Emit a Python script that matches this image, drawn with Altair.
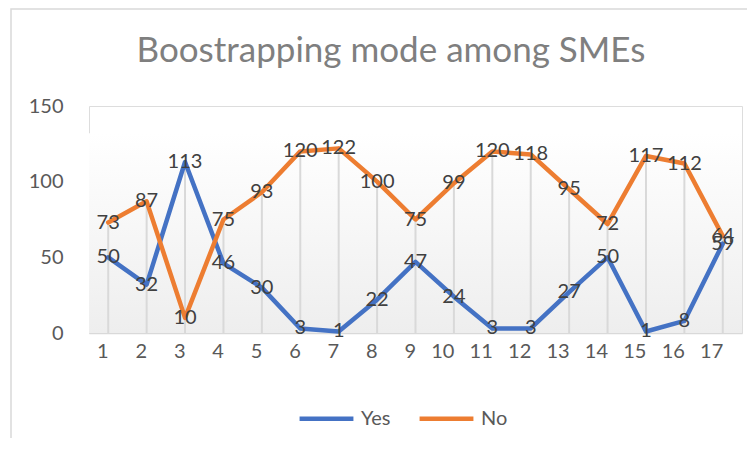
import altair as alt
import pandas as pd

categories = [str(i) for i in range(1, 18)]
yes_values = [50, 32, 113, 46, 30, 3, 1, 22, 47, 24, 3, 3, 27, 50, 1, 8, 59]
no_values = [73, 87, 10, 75, 93, 120, 122, 100, 75, 99, 120, 118, 95, 72, 117, 112, 64]
series_names = ["Yes", "No"]
series_colors = ["#4472C4", "#ED7D31"]
title_text = "Boostrapping mode among SMEs"

rows = []
for c, v in zip(categories, yes_values):
    rows.append({"cat": c, "series": "Yes", "value": v})
for c, v in zip(categories, no_values):
    rows.append({"cat": c, "series": "No", "value": v})
df = pd.DataFrame(rows)
df_max = pd.DataFrame({"cat": categories,
                       "top": [max(a, b) for a, b in zip(yes_values, no_values)]})

FONT = "Lato"
W, H = 653, 227

x_enc = alt.X("cat:O", sort=categories, scale=alt.Scale(type="point", padding=0.5),
              axis=alt.Axis(title=None, labelAngle=0, ticks=False, domain=True,
                            domainColor="#d9d9d9", domainWidth=1.5,
                            labelFontSize=20, labelColor="#595959", labelFont=FONT,
                            labelPadding=18, grid=False))
y_scale = alt.Scale(domain=[0, 150])

bg = alt.Chart(pd.DataFrame({"a": [0]})).mark_rect(
    color=alt.Gradient(gradient="linear",
                       stops=[alt.GradientStop(color="#ffffff", offset=0),
                              alt.GradientStop(color="#eeeeee", offset=1)],
                       x1=0, x2=0, y1=0, y2=1)
).encode(x=alt.value(0), x2=alt.value("width"),
         y=alt.datum(132, scale=y_scale), y2=alt.datum(0))

border = alt.Chart(pd.DataFrame({"a": [0]})).mark_rect(
    fill=None, stroke="#d9d9d9", strokeWidth=1.5
).encode(x=alt.value(-78), x2=alt.value(800), y=alt.value(-97), y2=alt.value(500))

title = alt.Chart(pd.DataFrame({"t": [title_text]})).mark_text(
    fontSize=35, color="#7f7f7f", font=FONT, align="center", baseline="alphabetic"
).encode(x=alt.value(302), y=alt.value(-44), text="t:N")

drops = alt.Chart(df_max).mark_rule(color="#d9d9d9", strokeWidth=2).encode(
    x=alt.X("cat:O", sort=categories),
    y=alt.Y("top:Q", scale=y_scale),
    y2=alt.datum(0)
)

lines = alt.Chart(df).mark_line(strokeWidth=4.5, strokeCap="round", strokeJoin="round").encode(
    x=x_enc,
    y=alt.Y("value:Q", scale=y_scale,
            axis=alt.Axis(title=None, values=[0, 50, 100, 150], grid=False, ticks=False,
                          domain=False, labelFontSize=20, labelColor="#595959",
                          labelFont=FONT, labelPadding=26)),
    color=alt.Color("series:N", sort=series_names,
                    scale=alt.Scale(domain=series_names, range=series_colors),
                    legend=alt.Legend(title=None, orient="none", direction="horizontal",
                                      legendX=208, legendY=283,
                                      symbolType="stroke", symbolSize=2900,
                                      symbolStrokeWidth=4.5, labelFontSize=20,
                                      labelColor="#595959", labelFont=FONT,
                                      labelOffset=5, columnPadding=19)),
    detail="series:N"
)

labels = alt.Chart(df).mark_text(fontSize=20, color="#404040", font=FONT,
                                 align="center", baseline="middle").encode(
    x=alt.X("cat:O", sort=categories),
    y=alt.Y("value:Q", scale=y_scale),
    text="value:Q"
)

chart = alt.layer(border, bg, drops, lines, labels, title).properties(
    width=W, height=H,
    autosize=alt.AutoSizeParams(type="none"),
    padding={"left": 81, "top": 98, "right": 5, "bottom": 105}
).configure_view(stroke=None).configure(background="white")

chart.save("out.html", embed_options={"renderer": "svg", "actions": False})
